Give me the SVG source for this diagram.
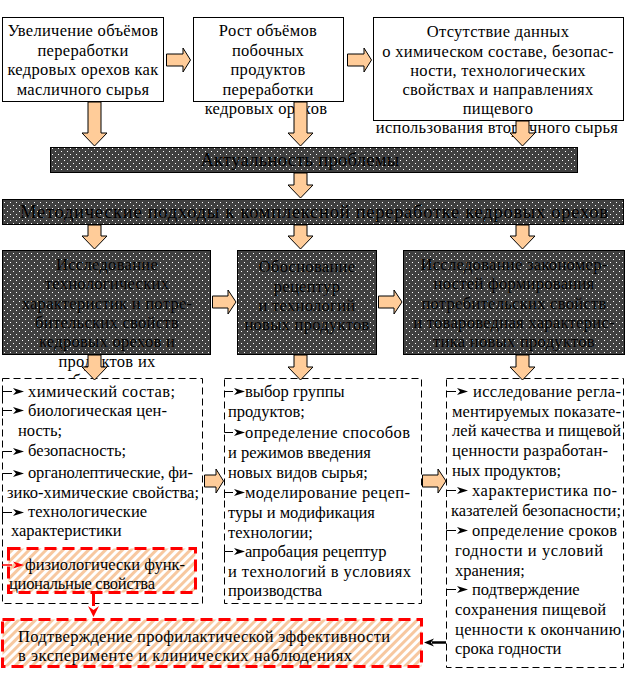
<svg xmlns="http://www.w3.org/2000/svg" xmlns:xlink="http://www.w3.org/1999/xlink" width="626" height="680" viewBox="0 0 626 680" font-family="'Liberation Serif', 'DejaVu Serif', serif">
<style>
text{font-family:"Liberation Serif","DejaVu Serif",serif;font-size:16.5px;fill:#000}
.c{text-anchor:middle;letter-spacing:0.3px}
.bar{font-size:18.5px}
.box{fill:#fff;stroke:#000;stroke-width:1}
.dark{fill:url(#dots);stroke:#000;stroke-width:1}
.dash{fill:#fff;stroke:#000;stroke-width:1;stroke-dasharray:7 4}
.red{fill:url(#hatch);stroke:#f00;stroke-width:3;stroke-dasharray:12 6}
.ba{fill:#ffcc99;stroke:#000;stroke-width:1}
.bl{fill:none;stroke:#000;stroke-width:1}
.blr{fill:none;stroke:#f00;stroke-width:1.5}
</style>
<defs>
<pattern id="dots" width="6" height="6" patternUnits="userSpaceOnUse">
<rect width="6" height="6" fill="#404040"/>
<rect x="1" y="1" width="1" height="1" fill="#fff"/>
<rect x="4" y="4" width="1" height="1" fill="#fff"/>
</pattern>
<pattern id="hatch" width="6" height="6" patternUnits="userSpaceOnUse" patternTransform="rotate(45)">
<rect width="6" height="6" fill="#fff"/>
<rect width="3" height="6" fill="#f7c8a0"/>
</pattern>
<path id="ah" d="M0,-3.5 L11,0 L0,3.5 L3,0 Z" fill="#000"/>
<path id="ahr" d="M0,-3.5 L11,0 L0,3.5 L3,0 Z" fill="#f00"/>
<clipPath id="clipA"><rect x="0" y="240" width="220" height="138"/></clipPath>
</defs>

<!-- Top row -->
<g id="n1">
<rect class="box" x="2.5" y="17.5" width="161" height="84"/>
<text class="c" x="83" y="36">Увеличение объёмов</text>
<text class="c" x="83" y="55.5">переработки</text>
<text class="c" x="83" y="75">кедровых орехов как</text>
<text class="c" x="83" y="94.5">масличного сырья</text>
</g>
<g id="n2">
<rect class="box" x="193.5" y="17.5" width="150" height="84"/>
<text class="c" x="268" y="36">Рост  объёмов</text>
<text class="c" x="268" y="55.5">побочных</text>
<text class="c" x="268" y="75">продуктов</text>
<text class="c" x="268" y="94.5">переработки</text>
<text class="c" x="266" y="114">кедровых орехов</text>
</g>
<g id="n3">
<rect class="box" x="373.5" y="17.5" width="250" height="103"/>
<text class="c" x="498" y="37">Отсутствие данных</text>
<text class="c" x="498" y="56.5">о химическом составе, безопас-</text>
<text class="c" x="498" y="76">ности, технологических</text>
<text class="c" x="498" y="95">свойствах и направлениях</text>
<text class="c" x="498" y="114">пищевого</text>
<text class="c" x="497" y="133">использования вторичного сырья</text>
</g>

<!-- Bars -->
<g id="n4">
<rect class="dark" x="50.5" y="147.5" width="527" height="25"/>
<text class="c bar" x="300" y="166">Актуальность  проблемы</text>
</g>
<g id="n5">
<rect class="dark" x="2.5" y="199.5" width="621" height="25"/>
<text class="bar" x="20" y="218" textLength="588" lengthAdjust="spacing">Методические  подходы  к  комплексной  переработке  кедровых  орехов</text>
</g>

<!-- Middle dark boxes -->
<g id="n6">
<rect class="dark" x="2.5" y="250.5" width="208" height="104"/>
<text class="c" x="107" y="270">Исследование</text>
<text class="c" x="107" y="289">технологических</text>
<text class="c" x="107" y="308.5">характеристик и потре-</text>
<text class="c" x="107" y="328">бительских свойств</text>
<text class="c" x="107" y="347">кедровых орехов и</text>
<text class="c" x="107" y="367">продуктов их</text>
<text class="c" x="107" y="386" clip-path="url(#clipA)">переработки как сырья</text>
</g>
<g id="n7">
<rect class="dark" x="237.5" y="250.5" width="139" height="104"/>
<text class="c" x="307" y="272">Обоснование</text>
<text class="c" x="307" y="291.5">рецептур</text>
<text class="c" x="307" y="311">и  технологий</text>
<text class="c" x="307" y="330">новых продуктов</text>
</g>
<g id="n8">
<rect class="dark" x="403.5" y="250.5" width="221" height="104"/>
<text class="c" x="514" y="270">Исследование закономер-</text>
<text class="c" x="514" y="289">ностей  формирования</text>
<text class="c" x="514" y="308.5">потребительских свойств</text>
<text class="c" x="514" y="328">и товароведная характерис-</text>
<text class="c" x="514" y="347">тика новых продуктов</text>
</g>

<!-- Dashed boxes -->
<g id="n9">
<rect class="dash" x="2.5" y="378.5" width="200" height="225"/>
<text x="28" y="397" textLength="147" lengthAdjust="spacing">химический  состав;</text>
<text x="28" y="416" textLength="139" lengthAdjust="spacing">биологическая цен-</text>
<text x="18" y="435.5">ность;</text>
<text x="28" y="456">безопасность;</text>
<text x="28" y="478" textLength="165" lengthAdjust="spacing">органолептические, фи-</text>
<text x="7" y="498" textLength="192" lengthAdjust="spacing">зико-химические свойства;</text>
<text x="28" y="517">технологические</text>
<text x="11" y="536">характеристики</text>
<path class="bl" d="M2.5,397 V391.5 H12"/><use xlink:href="#ah" x="13" y="391.5"/>
<path class="bl" d="M2.5,416 V410.5 H12"/><use xlink:href="#ah" x="13" y="410.5"/>
<path class="bl" d="M2.5,457 V451.5 H12"/><use xlink:href="#ah" x="13" y="451.5"/>
<path class="bl" d="M2.5,479 V473.5 H12"/><use xlink:href="#ah" x="13" y="473.5"/>
<path class="bl" d="M2.5,518 V512.5 H12"/><use xlink:href="#ah" x="13" y="512.5"/>
</g>
<g id="n10">
<rect class="red" x="8.5" y="548.5" width="187" height="44"/>
<text x="25" y="570" textLength="160" lengthAdjust="spacing">физиологически функ-</text>
<text x="9" y="589" textLength="146" lengthAdjust="spacing">циональные свойства</text>
<path class="blr" d="M2,565 H12"/><use xlink:href="#ahr" x="13" y="565"/>
</g>
<g id="n11">
<rect class="dash" x="224.5" y="378.5" width="197" height="225"/>
<text x="245" y="397">выбор  группы</text>
<text x="228" y="417">продуктов;</text>
<text x="245" y="438" textLength="165" lengthAdjust="spacing">определение способов</text>
<text x="228" y="458">и режимов введения</text>
<text x="228" y="478">новых видов сырья;</text>
<text x="245" y="498" textLength="165" lengthAdjust="spacing">моделирование рецеп-</text>
<text x="228" y="518">туры  и  модификация</text>
<text x="228" y="538">технологии;</text>
<text x="245" y="557">апробация рецептур</text>
<text x="228" y="577" textLength="183" lengthAdjust="spacing">и технологий в условиях</text>
<text x="228" y="596">производства</text>
<path class="bl" d="M224.5,397 V391.5 H233"/><use xlink:href="#ah" x="234" y="391.5"/>
<path class="bl" d="M224.5,427 V432.5 H233"/><use xlink:href="#ah" x="234" y="432.5"/>
<path class="bl" d="M224.5,498 V492.5 H233"/><use xlink:href="#ah" x="234" y="492.5"/>
<path class="bl" d="M224.5,557 V551.5 H233"/><use xlink:href="#ah" x="234" y="551.5"/>
</g>
<g id="n12">
<rect class="dash" x="446.5" y="378.5" width="177" height="289"/>
<text x="473" y="397" textLength="148" lengthAdjust="spacing">исследование регла-</text>
<text x="452" y="417" textLength="169" lengthAdjust="spacing">ментируемых показате-</text>
<text x="452" y="436" textLength="169" lengthAdjust="spacing">лей качества и пищевой</text>
<text x="452" y="456" textLength="156" lengthAdjust="spacing">ценности  разработан-</text>
<text x="452" y="476">ных  продуктов;</text>
<text x="472" y="496" textLength="145" lengthAdjust="spacing">характеристика  по-</text>
<text x="451" y="516" textLength="170" lengthAdjust="spacing">казателей безопасности;</text>
<text x="472" y="536" textLength="145" lengthAdjust="spacing">определение  сроков</text>
<text x="455" y="556" textLength="148" lengthAdjust="spacing">годности  и  условий</text>
<text x="455" y="576">хранения;</text>
<text x="472" y="595">подтверждение</text>
<text x="455" y="615" textLength="151" lengthAdjust="spacing">сохранения  пищевой</text>
<text x="455" y="635" textLength="166" lengthAdjust="spacing">ценности  к  окончанию</text>
<text x="455" y="654">срока  годности</text>
<path class="bl" d="M446.5,397 V391.5 H456"/><use xlink:href="#ah" x="457" y="391.5"/>
<path class="bl" d="M446.5,497 V490.5 H456"/><use xlink:href="#ah" x="457" y="490.5"/>
<path class="bl" d="M446.5,537 V530.5 H456"/><use xlink:href="#ah" x="457" y="530.5"/>
<path class="bl" d="M446.5,596 V589.5 H456"/><use xlink:href="#ah" x="457" y="589.5"/>
</g>
<g id="n13">
<rect class="red" x="2.5" y="619.5" width="419" height="47"/>
<text x="18" y="642" textLength="372" lengthAdjust="spacing">Подтверждение  профилактической  эффективности</text>
<text x="18" y="661" textLength="334" lengthAdjust="spacing">в  эксперименте  и  клинических  наблюдениях</text>
</g>

<!-- Connectors -->
<g id="connectors">
<path class="ba" d="M166.5,54 H183 V48 L190.5,60 L183,72 V66 H166.5 Z"/>
<path class="ba" d="M347.5,54 H364 V48 L371.5,60 L364,72 V66 H347.5 Z"/>
<path class="ba" d="M88,102 H101 V133 H107 L94.5,146 L82,133 H88 Z"/>
<path class="ba" d="M294,102 H307 V133 H313 L300.5,146 L288,133 H294 Z"/>
<path class="ba" d="M516,121 H529 V133 H535 L522.5,146 L510,133 H516 Z"/>
<path class="ba" d="M294,173 H307 V185 H313 L300.5,198 L288,185 H294 Z"/>
<path class="ba" d="M88,225 H101 V236 H107 L94.5,249 L82,236 H88 Z"/>
<path class="ba" d="M294,225 H307 V236 H313 L300.5,249 L288,236 H294 Z"/>
<path class="ba" d="M516,225 H529 V236 H535 L522.5,249 L510,236 H516 Z"/>
<path class="ba" d="M212.5,296 H228 V290 L236,302 L228,314 V308 H212.5 Z"/>
<path class="ba" d="M378.5,296 H394 V290 L402,302 L394,314 V308 H378.5 Z"/>
<path class="ba" d="M88,355 H101 V367 H107 L94.5,380 L82,367 H88 Z"/>
<path class="ba" d="M294,355 H307 V367 H313 L300.5,380 L288,367 H294 Z"/>
<path class="ba" d="M516,355 H529 V367 H535 L522.5,380 L510,367 H516 Z"/>
<path class="ba" d="M204.5,475 H216 V469 L223.5,481 L216,493 V487 H204.5 Z"/>
<path class="ba" d="M422.5,475 H438 V469 L446,481 L438,493 V487 H422.5 Z"/>
<path d="M93.5,593 V606" stroke="#f00" stroke-width="3" fill="none"/>
<path d="M88,606 L93.5,617 L99,606 L93.5,610 Z" fill="#f00"/>
<path d="M446,642.5 H432" stroke="#000" stroke-width="2.5" fill="none"/>
<path d="M424,642.5 L434,638.5 L431,642.5 L434,646.5 Z" fill="#000"/>
</g>
</svg>
